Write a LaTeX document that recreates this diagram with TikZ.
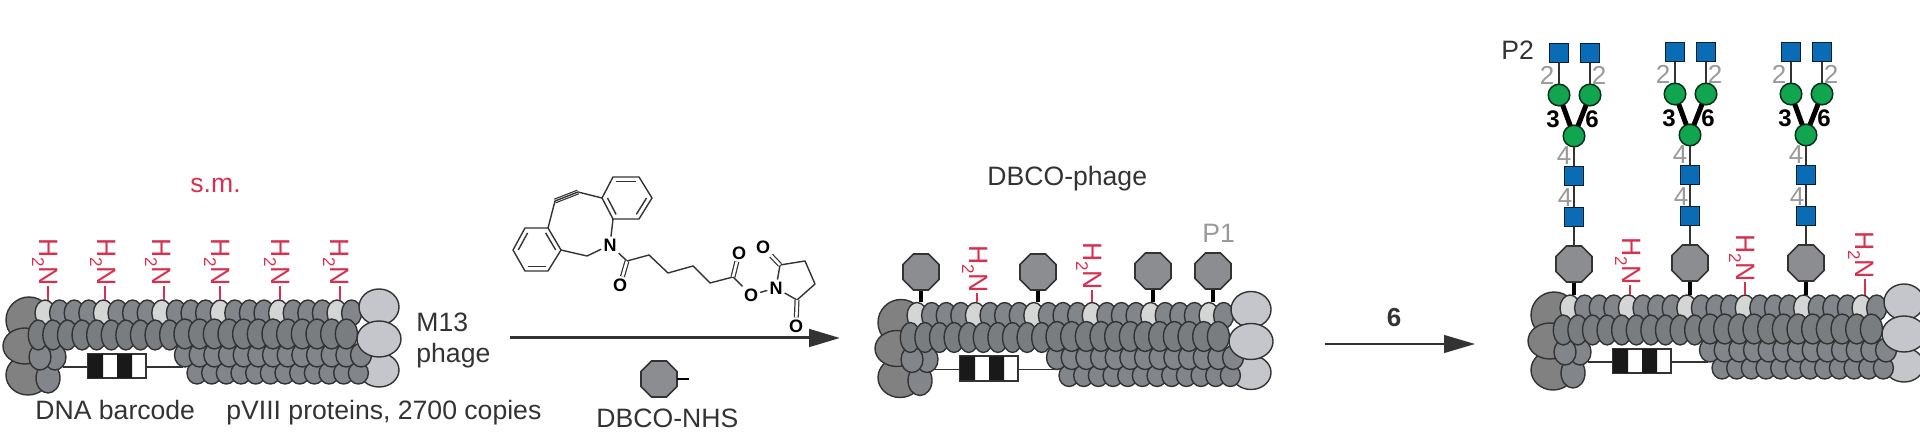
\documentclass[tikz,border=0pt]{standalone}
\usepackage{fontspec}
\setmainfont{Liberation Sans}
\usetikzlibrary{shapes.geometric,arrows.meta,calc}
\definecolor{inkc}{HTML}{333333}
\definecolor{aminec}{HTML}{D8304F}
\definecolor{grayc}{HTML}{9A9A9A}
\definecolor{scalec}{HTML}{82858A}
\definecolor{scaled}{HTML}{7A7D80}
\definecolor{scalel}{HTML}{D4D5D5}
\definecolor{capl}{HTML}{C4C6CB}
\definecolor{capd}{HTML}{828181}
\definecolor{octc}{HTML}{8B8D90}
\definecolor{blueg}{HTML}{0A6CB4}
\definecolor{greeng}{HTML}{12A550}
\tikzset{
  lab/.style={font=\fontsize{13.3}{15}\selectfont,text=inkc,inner sep=0pt,anchor=base west},
  redlab/.style={lab,text=aminec},
  graylab/.style={lab,text=grayc},
  num/.style={font=\fontsize{13}{15}\selectfont,text=grayc,inner sep=0pt},
  boldnum/.style={font=\fontsize{12}{15}\selectfont\bfseries,text=black,inner sep=0pt},
  amine/.style={font=\fontsize{13.3}{15}\selectfont,text=aminec,inner sep=0pt,rotate=-90,anchor=base},
  aminetick/.style={draw=aminec,line width=.8pt},
  sc/.style={draw=inkc,line width=.7pt,fill=scalec},
  scd/.style={sc,fill=scaled},
  scl/.style={sc,fill=scalel},
  cl/.style={sc,fill=capl},
  cd/.style={sc,fill=capd},
  octa/.style={regular polygon,regular polygon sides=8,draw=inkc,line width=.8pt,fill=octc,minimum size=19.5pt,inner sep=0pt,outer sep=0pt},
  stem/.style={draw=black,line width=1.9pt},
  sq/.style={rectangle,draw=black!70!blueg,line width=.75pt,fill=blueg,minimum size=9.7pt,inner sep=0pt,outer sep=0pt},
  ci/.style={circle,draw=black!70!greeng,line width=.75pt,fill=greeng,minimum size=10.8pt,inner sep=0pt,outer sep=0pt},
  thinl/.style={draw=inkc,line width=.8pt},
  thickl/.style={draw=black,line width=2.5pt},
  bond/.style={draw=inkc,line width=.7pt,line join=round},
  dblbond/.style={draw=inkc,line width=.6pt,double,double distance=1.3pt},
  atom/.style={font=\fontsize{9}{10}\selectfont\bfseries,text=black,inner sep=.9pt},
  rxn/.style={draw=inkc,-{Triangle[length=15.5pt,width=8.8pt]}},
}
\newcommand{\PhageBody}[3]{%
\begin{scope}[shift={(#2,#3)}]
  \coordinate (#1bl) at (63,367);
  \coordinate (#1br) at (183,367);
  \node[draw=inkc,line width=.7pt,fill=white,minimum width=29pt,minimum height=12pt,inner sep=0pt] (#1bar) at (117,366) {};
  \fill[black!90] (88,354) rectangle (103,378) (117,354) rectangle (132,378);
  \draw[thinl] (#1bl) -- (#1bar.west |- #1bl) (#1bar.east |- #1br) -- (#1br);
  \draw[inkc,line width=.7pt] (#1bar.south west) rectangle (#1bar.north east);
  \draw[cl] (379,370) ellipse [x radius=20,y radius=17];
  \draw[cd] (29,320) ellipse [x radius=23,y radius=23];
  \draw[cd] (28,375) ellipse [x radius=22,y radius=20];
  \draw[cd] (25,346) ellipse [x radius=22,y radius=18];
  \foreach \i in {0,...,11}{\pgfmathsetmacro\xx{197+14.67*\i}\draw[sc] (\xx,373) ellipse [x radius=10,y radius=11];}
  \foreach \i in {0,...,12}{\pgfmathsetmacro\xx{185+14.67*\i}\draw[sc] (\xx,355) ellipse [x radius=10.5,y radius=12];}
  \foreach \i in {0,...,21}{
    \pgfmathsetmacro\xx{45+14.6*\i}
    \pgfmathtruncatemacro\mm{mod(\i,4)}
    \ifnum\mm=0\relax
      \draw[scl] (\xx,313) ellipse [x radius=10,y radius=13];
    \else
      \draw[sc] (\xx,313) ellipse [x radius=10,y radius=13];
    \fi}
  \draw[cl] (379,307) ellipse [x radius=20,y radius=18];
  \draw[sc] (48,378) ellipse [x radius=12,y radius=15];
  \draw[sc] (55,357) ellipse [x radius=11,y radius=13];
  \draw[sc] (40,357) ellipse [x radius=11,y radius=13];
  \foreach \i in {0,...,9}{\pgfmathsetmacro\xx{38.3+14.6*\i}\draw[scd] (\xx,335) ellipse [x radius=10,y radius=15];}
  \foreach \i in {0,...,11}{\pgfmathsetmacro\xx{185+14.67*\i}\draw[scd] (\xx,334) ellipse [x radius=11,y radius=15];}
  \draw[cl] (379,339) ellipse [x radius=22,y radius=18];
  \coordinate (#1s1) at (48,300);
  \coordinate (#1s2) at (105,300);
  \coordinate (#1s3) at (164,300);
  \coordinate (#1s4) at (220,300);
  \coordinate (#1s5) at (280,300);
  \coordinate (#1s6) at (340,300);
\end{scope}}
\newcommand{\Amine}[4]{%
  \node[amine] (#1) at (#2,#3) {H\raisebox{-.28em}{\fontsize{8.5}{9}\selectfont 2}N};
  \draw[aminetick] (#1.east -| #4) -- (#4);}
\newcommand{\Octa}[4]{%
  \draw[stem] (#2,#3) -- (#2,#3 |- #4);
  \node[octa] (#1) at (#2,#3) {};}
\newcommand{\Glycan}[4]{%
\begin{scope}[shift={(#2,#3)}]
  \node[sq] (#1a) at (-15,53) {};
  \node[sq] (#1b) at (16,53) {};
  \node[ci] (#1c) at (-15,95) {};
  \node[ci] (#1d) at (16,95) {};
  \node[ci] (#1e) at (0,136) {};
  \node[sq] (#1f) at (0,176) {};
  \node[sq] (#1g) at (0,217) {};
  \draw[thinl] (#1a) -- (#1c);
  \draw[thinl] (#1b) -- (#1d);
  \draw[thickl] (#1c) -- (#1e);
  \draw[thickl] (#1d) -- (#1e);
  \draw[thinl] (#1e) -- (#1f);
  \draw[thinl] (#1f) -- (#1g);
  \draw[thinl] (#1g) -- (#4);
  \node[num] (#1n1) at (-27,75) {2};
  \node[num] (#1n2) at (25,75) {2};
  \node[boldnum] (#1n3) at (-21,119) {3};
  \node[boldnum] (#1n4) at (18,119) {6};
  \node[num] (#1n5) at (-10,156) {4};
  \node[num] (#1n6) at (-9,198) {4};
\end{scope}}
\begin{document}
\begin{tikzpicture}[x=.5pt,y=-.5pt]
\clip (0,0) rectangle (1920,442);
\fill[white] (0,0) rectangle (1920,442);
\PhageBody{a}{0}{0}
\PhageBody{b}{872}{2.5}
\PhageBody{c}{1525}{-5}
\Amine{a1}{39.5}{262}{as1}
\Amine{a2}{97.5}{262}{as2}
\Amine{a3}{152.5}{262}{as3}
\Amine{a4}{211.5}{262}{as4}
\Amine{a5}{271.5}{262}{as5}
\Amine{a6}{330.5}{262}{as6}
\Octa{b1}{921}{272}{bs1}
\Octa{b3}{1038}{272}{bs3}
\Octa{b5}{1153}{271}{bs5}
\Octa{b6}{1213}{271}{bs6}
\Amine{bh2}{969.5}{269}{bs2}
\Amine{bh4}{1083.5}{266}{bs4}
\Octa{c1}{1574}{264}{cs1}
\Octa{c3}{1690}{263}{cs3}
\Octa{c5}{1806}{263}{cs5}
\Amine{ch2}{1622.5}{261}{cs2}
\Amine{ch4}{1736.5}{258}{cs4}
\Amine{ch6}{1855.5}{255}{cs6}
\Glycan{g}{1574}{0}{c1}
\Glycan{h}{1690}{-1}{c3}
\Glycan{i}{1806}{-1}{c5}
\node[redlab] (sm) at (190,193) {s.m.};
\node[lab] (m13) at (416,332) {M13};
\node[lab] (ph) at (416,363) {phage};
\node[lab] (dna) at (35,420) {DNA barcode};
\node[lab] (pviii) at (226,420) {pVIII proteins, 2700 copies};
\node[lab] (nhs) at (596,428) {DBCO-NHS};
\node[lab] (dp) at (987,186) {DBCO-phage};
\node[graylab] (p1) at (1202,243) {P1};
\node[lab] (p2) at (1501,60) {P2};
\coordinate (r1a) at (510,338);
\coordinate (r1b) at (840,338);
\coordinate (r2a) at (1325,344);
\coordinate (r2b) at (1475,344);
\draw[rxn,line width=1.5pt] (r1a) -- (r1b);
\draw[rxn,line width=1.2pt] (r2a) -- (r2b);
\node[font=\fontsize{13}{15}\selectfont\bfseries,text=inkc,inner sep=0pt] (six) at (1394,318) {6};
\coordinate (tail) at (689,379);
\node[octa] (nhsoct) at (659,379) {};
\draw[draw=black,line width=1pt] (nhsoct) -- (tail);
\coordinate (r1) at (613,177); \coordinate (r2) at (639,177); \coordinate (r3) at (652,198);
\coordinate (r4) at (639,219); \coordinate (r5) at (613,219); \coordinate (r6) at (602,198);
\coordinate (rc) at (627,198);
\coordinate (l1) at (525,228); \coordinate (l2) at (548,228); \coordinate (l3) at (561,250);
\coordinate (l4) at (548,271); \coordinate (l5) at (525,271); \coordinate (l6) at (513,250);
\coordinate (lc) at (537,250);
\coordinate (t1) at (578,192); \coordinate (t2) at (555,201);
\coordinate (ch2) at (587,256);
\node[atom] (N1) at (610,245) {N};
\coordinate (co1) at (627,261);
\node[atom] (O1) at (620,285) {O};
\coordinate (k1) at (649,255); \coordinate (k2) at (668,273); \coordinate (k3) at (693,266);
\coordinate (k4) at (710,283); \coordinate (co2) at (733,277);
\node[atom] (O2) at (739,253) {O};
\node[atom] (O3) at (751,295) {O};
\node[atom] (N2) at (776,288) {N};
\coordinate (s1) at (780,265);
\node[atom] (O4) at (763,247) {O};
\coordinate (s2) at (805,261); \coordinate (s3) at (815,284); \coordinate (s4) at (797,300);
\node[atom] (O5) at (796,326) {O};
\draw[bond] (r1)--(r2)--(r3)--(r4)--(r5)--(r6)--cycle;
\draw[bond] (l1)--(l2)--(l3)--(l4)--(l5)--(l6)--cycle;
\draw[bond] ($(rc)!.78!(r1)$) -- ($(rc)!.78!(r2)$);
\draw[bond] ($(rc)!.78!(r3)$) -- ($(rc)!.78!(r4)$);
\draw[bond] ($(rc)!.78!(r5)$) -- ($(rc)!.78!(r6)$);
\draw[bond] ($(lc)!.78!(l1)$) -- ($(lc)!.78!(l6)$);
\draw[bond] ($(lc)!.78!(l2)$) -- ($(lc)!.78!(l3)$);
\draw[bond] ($(lc)!.78!(l4)$) -- ($(lc)!.78!(l5)$);
\draw[bond] (r6) -- (t1);
\draw[dblbond] (t1) -- (t2);
\draw[bond] (t1) -- (t2);
\draw[bond] (t2) -- (l2);
\draw[bond] (l3) -- (ch2) -- (N1);
\draw[bond] (N1) -- (r5);
\draw[bond] (N1) -- (co1);
\draw[dblbond] (co1) -- (O1);
\draw[bond] (co1) -- (k1) -- (k2) -- (k3) -- (k4) -- (co2);
\draw[dblbond] (co2) -- (O2);
\draw[bond] (co2) -- (O3);
\draw[bond] (O3) -- (N2);
\draw[bond] (N2) -- (s1) -- (s2) -- (s3) -- (s4) -- (N2);
\draw[dblbond] (s1) -- (O4);
\draw[dblbond] (s4) -- (O5);
\end{tikzpicture}
\end{document}
